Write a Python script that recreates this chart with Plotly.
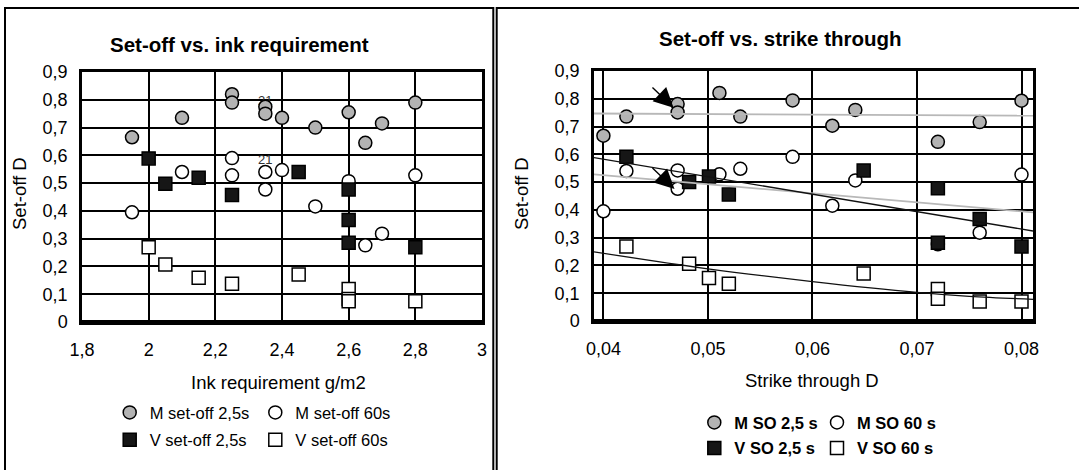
import plotly.graph_objects as go

# ---- Set-off vs. ink requirement (g/m2) ----
ink_m25_x = [1.95, 2.10, 2.25, 2.25, 2.35, 2.35, 2.40, 2.50, 2.60, 2.65, 2.70, 2.80]
ink_m25_y = [0.665, 0.735, 0.820, 0.790, 0.775, 0.750, 0.735, 0.700, 0.755, 0.645, 0.715, 0.790]
ink_m60_x = [1.95, 2.10, 2.25, 2.25, 2.35, 2.35, 2.40, 2.50, 2.60, 2.65, 2.70, 2.80]
ink_m60_y = [0.395, 0.540, 0.590, 0.528, 0.540, 0.477, 0.547, 0.416, 0.507, 0.276, 0.318, 0.528]
ink_v25_x = [2.00, 2.05, 2.15, 2.25, 2.45, 2.60, 2.60, 2.60, 2.80]
ink_v25_y = [0.589, 0.498, 0.519, 0.457, 0.540, 0.477, 0.367, 0.285, 0.269]
ink_v60_x = [2.00, 2.05, 2.15, 2.25, 2.45, 2.60, 2.60, 2.60, 2.80]
ink_v60_y = [0.269, 0.207, 0.159, 0.138, 0.171, 0.119, 0.083, 0.075, 0.075]

# point labels shown in the ink chart
ink_label_x = [2.35, 2.35]
ink_label_y = [0.792, 0.580]
ink_label_text = ["21", "21"]

# ---- Set-off vs. strike through D ----
st_m25_x = [0.0400, 0.0422, 0.0471, 0.0471, 0.0511, 0.0531, 0.0581, 0.0619, 0.0641, 0.0720, 0.0760, 0.0800]
st_m25_y = [0.667, 0.736, 0.781, 0.751, 0.821, 0.736, 0.794, 0.703, 0.760, 0.645, 0.716, 0.793]
st_m60_x = [0.0400, 0.0422, 0.0471, 0.0471, 0.0511, 0.0531, 0.0581, 0.0619, 0.0641, 0.0720, 0.0760, 0.0800]
st_m60_y = [0.395, 0.540, 0.542, 0.476, 0.528, 0.548, 0.591, 0.415, 0.506, 0.276, 0.318, 0.527]
st_v25_x = [0.0422, 0.0482, 0.0501, 0.0520, 0.0649, 0.0720, 0.0720, 0.0760, 0.0800]
st_v25_y = [0.591, 0.500, 0.520, 0.455, 0.542, 0.478, 0.282, 0.367, 0.268]
st_v60_x = [0.0422, 0.0482, 0.0501, 0.0520, 0.0649, 0.0720, 0.0720, 0.0760, 0.0800]
st_v60_y = [0.268, 0.206, 0.155, 0.134, 0.171, 0.115, 0.080, 0.070, 0.070]

# trend lines of the strike-through chart
trend_lin_x = [0.0391, 0.0811]
trend_m25_y = [0.747, 0.739]
trend_m60_y = [0.528, 0.391]
trend_v25_y = [0.588, 0.324]
trend_v60_x = [0.0391, 0.0500, 0.0600, 0.0700, 0.0750, 0.0811]
trend_v60_y = [0.249, 0.188, 0.142, 0.103, 0.089, 0.078]

# axis ranges and tick labels
ink_range = [1.8, 3.0]
ink_ticks = [1.8, 2.0, 2.2, 2.4, 2.6, 2.8, 3.0]
ink_tick_text = ["1,8", "2", "2,2", "2,4", "2,6", "2,8", "3"]
st_range = [0.0391, 0.0811]
st_ticks = [0.04, 0.05, 0.06, 0.07, 0.08]
st_tick_text = ["0,04", "0,05", "0,06", "0,07", "0,08"]
so_range = [0, 0.9]
so_ticks = [0, 0.1, 0.2, 0.3, 0.4, 0.5, 0.6, 0.7, 0.8, 0.9]
so_tick_text = ["0", "0,1", "0,2", "0,3", "0,4", "0,5", "0,6", "0,7", "0,8", "0,9"]

FONT = "Liberation Sans, Arial, sans-serif"
W, H = 1079, 470


def fx(p):
    return p / W


def fy(p):
    return 1 - p / H


GRAY = "#b3b3b3"
EDGE = dict(color="black", width=1.5)
STYLE_M25 = dict(symbol="circle", size=13, color=GRAY, line=EDGE)
STYLE_M60 = dict(symbol="circle", size=13, color="white", line=EDGE)
STYLE_V25 = dict(symbol="square", size=13, color="#161616", line=EDGE)
STYLE_V60 = dict(symbol="square", size=13, color="white", line=EDGE)

fig = go.Figure()

# text labels sit underneath the markers
fig.add_trace(go.Scatter(x=ink_label_x, y=ink_label_y, text=ink_label_text, mode="text",
                         textfont=dict(family=FONT, size=13, color="#333333"),
                         showlegend=False, hoverinfo="skip", xaxis="x", yaxis="y"))

ink_series = [
    ("M set-off 2,5s", ink_m25_x, ink_m25_y, STYLE_M25, "legend"),
    ("M set-off 60s", ink_m60_x, ink_m60_y, STYLE_M60, "legend"),
    ("V set-off 2,5s", ink_v25_x, ink_v25_y, STYLE_V25, "legend2"),
    ("V set-off 60s", ink_v60_x, ink_v60_y, STYLE_V60, "legend2"),
]
for name, xs, ys, style, leg in ink_series:
    fig.add_trace(go.Scatter(x=xs, y=ys, name=name, mode="markers", marker=style,
                             legend=leg, xaxis="x", yaxis="y"))

st_series = [
    ("<b>M SO 2,5 s</b>", st_m25_x, st_m25_y, STYLE_M25, "legend3"),
    ("<b>M SO 60 s</b>", st_m60_x, st_m60_y, STYLE_M60, "legend3"),
    ("<b>V SO 2,5 s</b>", st_v25_x, st_v25_y, STYLE_V25, "legend4"),
    ("<b>V SO 60 s</b>", st_v60_x, st_v60_y, STYLE_V60, "legend4"),
]
for name, xs, ys, style, leg in st_series:
    fig.add_trace(go.Scatter(x=xs, y=ys, name=name, mode="markers", marker=style,
                             legend=leg, xaxis="x2", yaxis="y2"))

trends = [
    (trend_lin_x, trend_m25_y, "#b8b8b8", 1.8, "linear"),
    (trend_lin_x, trend_m60_y, "#b8b8b8", 1.8, "linear"),
    (trend_lin_x, trend_v25_y, "#111111", 1.3, "linear"),
    (trend_v60_x, trend_v60_y, "#111111", 1.3, "spline"),
]
for xs, ys, col, lw, shape in trends:
    fig.add_trace(go.Scatter(x=xs, y=ys, mode="lines",
                             line=dict(color=col, width=lw, shape=shape),
                             showlegend=False, hoverinfo="skip", xaxis="x2", yaxis="y2"))

axis_common = dict(showgrid=True, gridcolor="black", gridwidth=1.5, zeroline=False,
                   showline=True, mirror=True, linecolor="black", ticks="",
                   tickfont=dict(family=FONT, size=18, color="black"))

legend_common = dict(orientation="h", bgcolor="rgba(0,0,0,0)", borderwidth=0,
                     xanchor="left", yanchor="middle", entrywidthmode="pixels")
font_legend = dict(family=FONT, size=16.5, color="black")

fig.update_layout(
    width=W, height=H,
    margin=dict(l=0, r=0, t=0, b=0, pad=0, autoexpand=False),
    paper_bgcolor="white", plot_bgcolor="white",
    font=dict(family=FONT, color="black"),
    xaxis=dict(domain=[fx(82), fx(482)], range=ink_range, tickvals=ink_ticks,
               ticktext=ink_tick_text, anchor="y", linewidth=3, ticklabelstandoff=9,
               **axis_common),
    yaxis=dict(domain=[fy(322), fy(72)], range=so_range, tickvals=so_ticks,
               ticktext=so_tick_text, anchor="x", linewidth=2.5, ticklabelstandoff=8,
               **axis_common),
    xaxis2=dict(domain=[fx(594), fx(1033)], range=st_range, tickvals=st_ticks,
                ticktext=st_tick_text, anchor="y2", linewidth=3, ticklabelstandoff=9,
                **axis_common),
    yaxis2=dict(domain=[fy(321), fy(71)], range=so_range, tickvals=so_ticks,
                ticktext=so_tick_text, anchor="x2", linewidth=2.5, ticklabelstandoff=8,
                **axis_common),
    legend=dict(x=fx(109.7), y=fy(412.7), entrywidth=100.6, font=font_legend, **legend_common),
    legend2=dict(x=fx(109.7), y=fy(440), entrywidth=100.6, font=font_legend, **legend_common),
    legend3=dict(x=fx(694.3), y=fy(422.7), entrywidth=77.7, font=font_legend, **legend_common),
    legend4=dict(x=fx(694.3), y=fy(448.3), entrywidth=77.7, font=font_legend, **legend_common),
)

# chart and axis titles
annotations = [
    dict(text="<b>Set-off vs. ink requirement</b>", x=fx(239), y=fy(45), size=20.5, angle=0),
    dict(text="<b>Set-off vs. strike through</b>", x=fx(780), y=fy(38), size=20.5, angle=0),
    dict(text="Ink requirement g/m2", x=fx(278), y=fy(382), size=18.5, angle=0),
    dict(text="Strike through D", x=fx(812), y=fy(380), size=18.5, angle=0),
    dict(text="Set-off D", x=fx(19), y=fy(194), size=18.5, angle=-90),
    dict(text="Set-off D", x=fx(521), y=fy(194), size=18.5, angle=-90),
]
for a in annotations:
    fig.add_annotation(text=a["text"], x=a["x"], y=a["y"], xref="paper", yref="paper",
                       xanchor="center", yanchor="middle", showarrow=False,
                       textangle=a["angle"], font=dict(family=FONT, size=a["size"], color="black"))

# pointer arrows in the strike-through chart
arrows = [((0.04671, 0.768), (0.04455, 0.846)), ((0.04680, 0.475), (0.04455, 0.556))]
for (hx, hy), (tx, ty) in arrows:
    fig.add_annotation(x=hx, y=hy, ax=tx, ay=ty, xref="x2", yref="y2", axref="x2", ayref="y2",
                       text="", showarrow=True, arrowhead=2, arrowsize=2.8, arrowwidth=1.4,
                       arrowcolor="black")

# panel frames and the heavy baseline of each plot
fig.add_shape(type="rect", xref="paper", yref="paper", x0=fx(5), x1=fx(493.3), y0=-0.1, y1=fy(8),
              line=dict(color="black", width=2), layer="above")
fig.add_shape(type="rect", xref="paper", yref="paper", x0=fx(496.7), x1=1.1, y0=-0.1, y1=fy(8),
              line=dict(color="black", width=2), layer="above")
for xr, yr in [("x domain", "y domain"), ("x2 domain", "y2 domain")]:
    fig.add_shape(type="line", xref=xr, yref=yr, x0=0, x1=1, y0=0, y1=0,
                  line=dict(color="black", width=4), layer="above")

fig.write_html("out.html", post_script="document.body.style.margin = '0';")
